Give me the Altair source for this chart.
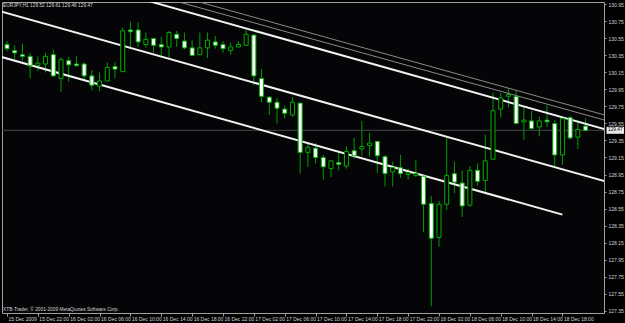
import altair as alt
import pandas as pd

# ---- data (EURJPY, H1, bar 0 = 15 Dec 2009 18:00) ----
opens = [130.48, 130.41, 130.36, 130.34, 130.23, 130.25, 130.36, 130.08, 130.29, 130.25,
         130.25, 130.11, 129.99, 130.05, 130.22, 130.16, 130.65, 130.65, 130.48, 130.55,
         130.48, 130.45, 130.60, 130.52, 130.44, 130.36, 130.44, 130.51, 130.48, 130.41,
         130.45, 130.47, 130.59, 130.08, 129.86, 129.80, 129.72, 129.65, 129.79, 129.21,
         129.26, 129.15, 129.02, 129.09, 129.05, 129.23, 129.25, 129.29, 129.34, 129.16,
         128.98, 129.03, 128.95, 128.94, 128.93, 128.61, 128.21, 128.60, 128.96, 128.85,
         128.59, 129.00, 128.88, 129.13, 129.72, 129.87, 129.87, 129.57, 129.58, 129.51,
         129.59, 129.55, 129.18, 129.62, 129.39, 129.52]
highs = [130.52, 130.47, 130.49, 130.38, 130.34, 130.38, 130.42, 130.33, 130.33, 130.34,
         130.27, 130.18, 130.15, 130.27, 130.27, 130.68, 130.75, 130.74, 130.62, 130.56,
         130.57, 130.64, 130.64, 130.62, 130.53, 130.62, 130.62, 130.58, 130.52, 130.50,
         130.52, 130.65, 130.60, 130.19, 129.87, 129.85, 129.76, 129.86, 129.79, 129.32,
         129.32, 129.18, 129.12, 129.21, 129.28, 129.38, 129.58, 129.44, 129.34, 129.18,
         129.10, 129.18, 129.02, 129.12, 128.94, 128.70, 128.64, 129.38, 129.10, 129.00,
         129.05, 129.08, 129.42, 129.91, 129.91, 129.96, 129.94, 129.75, 129.70, 129.63,
         129.76, 129.59, 129.63, 129.64, 129.59, 129.61]
lows = [130.40, 130.31, 130.29, 130.08, 130.17, 130.15, 130.10, 129.92, 130.04, 130.22,
        130.06, 129.94, 129.93, 130.05, 130.08, 130.16, 130.44, 130.45, 130.44, 130.38,
        130.35, 130.32, 130.45, 130.42, 130.34, 130.36, 130.32, 130.43, 130.38, 130.36,
        130.45, 130.47, 130.00, 129.80, 129.65, 129.55, 129.61, 129.63, 128.96, 129.04,
        129.08, 128.89, 128.92, 129.00, 129.02, 129.14, 129.17, 129.16, 128.97, 128.81,
        128.81, 128.91, 128.89, 128.92, 128.27, 127.40, 128.10, 128.53, 128.73, 128.45,
        128.57, 128.82, 128.73, 129.13, 129.62, 129.74, 129.55, 129.36, 129.48, 129.40,
        129.51, 129.05, 129.06, 129.36, 129.25, 129.46]
closes = [130.43, 130.38, 130.34, 130.23, 130.26, 130.34, 130.11, 130.30, 130.24, 130.23,
          130.11, 130.00, 130.05, 130.21, 130.19, 130.64, 130.63, 130.51, 130.54, 130.47,
          130.45, 130.62, 130.55, 130.44, 130.35, 130.44, 130.53, 130.47, 130.43, 130.45,
          130.48, 130.60, 130.11, 129.87, 129.80, 129.73, 129.67, 129.80, 129.21, 129.27,
          129.15, 129.04, 129.11, 129.07, 129.22, 129.17, 129.28, 129.32, 129.17, 128.96,
          129.03, 128.96, 128.97, 128.96, 128.60, 128.20, 128.60, 128.94, 128.86, 128.58,
          129.00, 128.87, 129.11, 129.70, 129.85, 129.89, 129.55, 129.59, 129.49, 129.58,
          129.57, 129.18, 129.61, 129.38, 129.48, 129.47]

tick_bars = [0, 4, 8, 12, 16, 20, 24, 28, 32, 36, 40, 44, 48, 52, 56, 60, 64, 68, 72]
tick_labels = ["15 Dec 2009", "15 Dec 22:00", "16 Dec 02:00", "16 Dec 06:00", "16 Dec 10:00",
               "16 Dec 14:00", "16 Dec 18:00", "16 Dec 22:00", "17 Dec 02:00", "17 Dec 06:00",
               "17 Dec 10:00", "17 Dec 14:00", "17 Dec 18:00", "17 Dec 22:00", "18 Dec 02:00",
               "18 Dec 06:00", "18 Dec 10:00", "18 Dec 14:00", "18 Dec 18:00"]
price_ticks = [127.35, 127.55, 127.75, 127.95, 128.15, 128.35, 128.55, 128.75, 128.95, 129.15,
               129.35, 129.55, 129.75, 129.95, 130.15, 130.35, 130.55, 130.75, 130.95]

# trend / channel lines: (bar, price) end points
line_names = ["upper", "lower", "top", "thin1", "thin2"]
line_x0 = [-1, -1, 0, 20, 20]
line_p0 = [130.873, 130.340, 131.459, 131.104, 131.037]
line_x1 = [80, 72, 80, 80, 80]
line_p1 = [128.807, 128.478, 129.419, 129.586, 129.526]
line_kind = ["thick", "thick", "thick", "thin", "thin"]

symbol_text = "EURJPY,H1  129.52 129.61 129.46 129.47"
copyright_text = "XTB-Trader, © 2001-2009 MetaQuotes Software Corp."
bid_price = [129.47]

# ---- tables ----
n = len(opens)
candles = pd.DataFrame({"i": list(range(n)), "open": opens, "high": highs,
                        "low": lows, "close": closes})
candles["dir"] = ["bear" if c < o else "bull" for o, c in zip(opens, closes)]
candles["top"] = candles[["open", "close"]].max(axis=1)
candles["bot"] = candles[["open", "close"]].min(axis=1)

rows = []
for nm, x0, p0, x1, p1, k in zip(line_names, line_x0, line_p0, line_x1, line_p1, line_kind):
    rows.append({"name": nm, "i": x0, "p": p0, "kind": k, "o": 0})
    rows.append({"name": nm, "i": x1, "p": p1, "kind": k, "o": 1})
lines = pd.DataFrame(rows)

bid = pd.DataFrame({"p": bid_price, "t": [f"{v:.2f}" for v in bid_price]})

label_expr = "[" + ",".join(f"'{s}'" for s in tick_labels) + "][round(datum.value/4)]"

FONT = "Liberation Sans"
GREEN = "#00b000"
WICK = "#009c00"
FG = "#d4d4d4"

xs = alt.Scale(domain=[0, 76.74], nice=False, zero=False)
ys = alt.Scale(domain=[127.3206, 130.9794], nice=False, zero=False)

x_axis = alt.Axis(values=tick_bars, labelExpr=label_expr, title=None, grid=False,
                  domain=False, tickSize=3, tickColor="#a0a0a0", labelAlign="left",
                  labelBaseline="top", labelPadding=0, labelOffset=1, labelFontSize=5,
                  labelFont=FONT, labelColor=FG, labelOverlap=False, labelFlush=False)
y_axis = alt.Axis(values=price_ticks, format=".2f", orient="right", title=None, grid=False,
                  domain=False, tickSize=2, tickColor="#a0a0a0", labelAlign="left",
                  labelBaseline="middle", labelPadding=2, labelFontSize=5, labelFont=FONT,
                  labelColor=FG, labelOverlap=False, labelFlush=False)

base = alt.Chart(candles)

wicks = base.mark_rule(color=WICK, strokeWidth=1).encode(
    x=alt.X("i:Q", scale=xs, axis=x_axis),
    y=alt.Y("low:Q", scale=ys, axis=y_axis),
    y2="high:Q",
)

bodies = base.mark_bar(size=4, stroke=GREEN, strokeWidth=1).encode(
    x=alt.X("i:Q", scale=xs, axis=x_axis),
    y=alt.Y("bot:Q", scale=ys, axis=y_axis),
    y2="top:Q",
    fill=alt.Fill("dir:N", scale=alt.Scale(domain=["bear", "bull"],
                                           range=["#ffffff", "#000000"]), legend=None),
)

bidline = alt.Chart(bid).mark_rule(color="#3e4848", strokeWidth=1).encode(
    y=alt.Y("p:Q", scale=ys, axis=y_axis)
)

chan = alt.Chart(lines).mark_line(clip=True).encode(
    x=alt.X("i:Q", scale=xs, axis=x_axis),
    y=alt.Y("p:Q", scale=ys, axis=y_axis),
    detail="name:N",
    order="o:Q",
    color=alt.Color("kind:N", scale=alt.Scale(domain=["thick", "thin"],
                                              range=["#f2f2f2", "#8a8a8a"]), legend=None),
    strokeWidth=alt.StrokeWidth("kind:N", scale=alt.Scale(domain=["thick", "thin"],
                                                          range=[2, 1]), legend=None),
)

bidbox = alt.Chart(bid).mark_rect(color="#e8e8e8", yOffset=-3.5, y2Offset=3.5).encode(
    y=alt.Y("p:Q", scale=ys, axis=y_axis),
    y2="p:Q",
    x=alt.value(604.5),
    x2=alt.value(622),
)
bidtext = alt.Chart(bid).mark_text(align="center", baseline="middle", fontSize=4.8,
                                   font=FONT, color="#000000").encode(
    y=alt.Y("p:Q", scale=ys, axis=y_axis),
    x=alt.value(613.3),
    text="t:N",
)

title_df = pd.DataFrame({"t": [symbol_text]})
copy_df = pd.DataFrame({"t": [copyright_text]})
title_txt = alt.Chart(title_df).mark_text(align="left", baseline="middle", fontSize=4.8,
                                          font=FONT, color=FG).encode(
    x=alt.value(1), y=alt.value(3.5), text="t:N")
copy_txt = alt.Chart(copy_df).mark_text(align="left", baseline="middle", fontSize=4.8,
                                        font=FONT, color=FG).encode(
    x=alt.value(1), y=alt.value(307.5), text="t:N")

chart = alt.layer(wicks, bidline, chan, bodies, bidbox, bidtext, title_txt, copy_txt).properties(
    width=602, height=311,
    autosize=alt.AutoSizeParams(type="none"),
    padding={"left": 2, "top": 2, "right": 21, "bottom": 10},
    background="#000000",
).configure_view(fill="#050507", stroke="#a0a0a0", strokeWidth=1)

chart.save("out.html", embed_options={"renderer": "svg", "actions": False})
